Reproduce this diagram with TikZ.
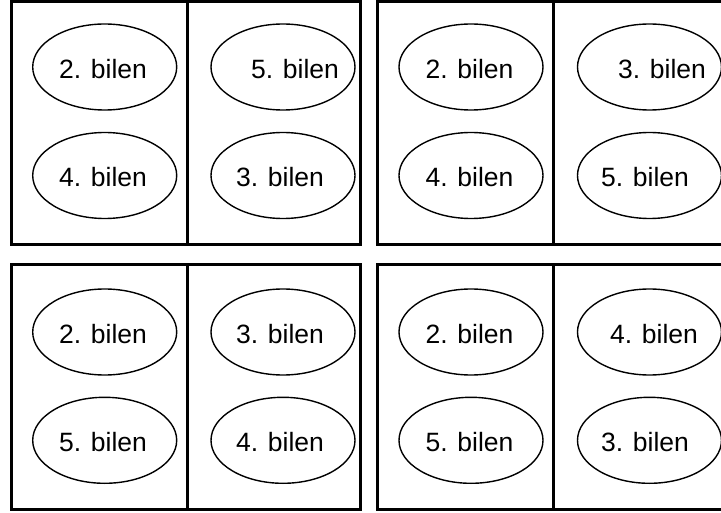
\documentclass[tikz,border=0pt]{standalone}
\usepackage{fontspec}
\setmainfont{Liberation Sans}
\usetikzlibrary{shapes.geometric}
\tikzset{
  panel/.style={draw=black, line width=3pt},
  ell/.style={draw=black, ellipse, line width=1.4pt, minimum width=144pt, minimum height=86pt, inner sep=0pt},
  lbl/.style={inner sep=0pt, font=\fontsize{26.5}{30}\selectfont}
}
\begin{document}
\begin{tikzpicture}[x=1pt,y=-1pt]
\useasboundingbox (0,0) rectangle (721,513);
\clip (0,0) rectangle (721,513);
\fill[white] (0,0) rectangle (721,513);
% panels
\draw[panel] (11.5,1.5) rectangle (360.5,244.5);
\draw[panel] (187.5,1.5) -- (187.5,244.5);
\draw[panel] (377.5,1.5) rectangle (726.5,244.5);
\draw[panel] (553.5,1.5) -- (553.5,244.5);
\draw[panel] (11.5,264.5) rectangle (360.5,509.5);
\draw[panel] (187.5,264.5) -- (187.5,509.5);
\draw[panel] (377.5,264.5) rectangle (726.5,509.5);
\draw[panel] (553.5,264.5) -- (553.5,509.5);
% panel A
\node[ell] (a1) at (104.7,67) {};
\node[lbl] (ta1) at (103,69) {2. bilen};
\node[ell] (a2) at (283,67) {};
\node[lbl] (ta2) at (295,69) {5. bilen};
\node[ell] (a3) at (104.7,175.5) {};
\node[lbl] (ta3) at (103,177.5) {4. bilen};
\node[ell] (a4) at (283,175.5) {};
\node[lbl] (ta4) at (280,177.5) {3. bilen};
% panel B
\node[ell] (b1) at (471,67) {};
\node[lbl] (tb1) at (469.5,69) {2. bilen};
\node[ell] (b2) at (649.5,67) {};
\node[lbl] (tb2) at (662,69) {3. bilen};
\node[ell] (b3) at (471,175.5) {};
\node[lbl] (tb3) at (469.5,177.5) {4. bilen};
\node[ell] (b4) at (649.5,175.5) {};
\node[lbl] (tb4) at (645,177.5) {5. bilen};
% panel C
\node[ell] (c1) at (104.7,332) {};
\node[lbl] (tc1) at (103,334) {2. bilen};
\node[ell] (c2) at (283,332) {};
\node[lbl] (tc2) at (280,334) {3. bilen};
\node[ell] (c3) at (104.7,440.3) {};
\node[lbl] (tc3) at (103,442.3) {5. bilen};
\node[ell] (c4) at (283,440.3) {};
\node[lbl] (tc4) at (280,442.3) {4. bilen};
% panel D
\node[ell] (d1) at (471,332) {};
\node[lbl] (td1) at (469.5,334) {2. bilen};
\node[ell] (d2) at (649.5,332) {};
\node[lbl] (td2) at (654,334) {4. bilen};
\node[ell] (d3) at (471,440.3) {};
\node[lbl] (td3) at (469.5,442.3) {5. bilen};
\node[ell] (d4) at (649.5,440.3) {};
\node[lbl] (td4) at (645,442.3) {3. bilen};
\end{tikzpicture}
\end{document}
